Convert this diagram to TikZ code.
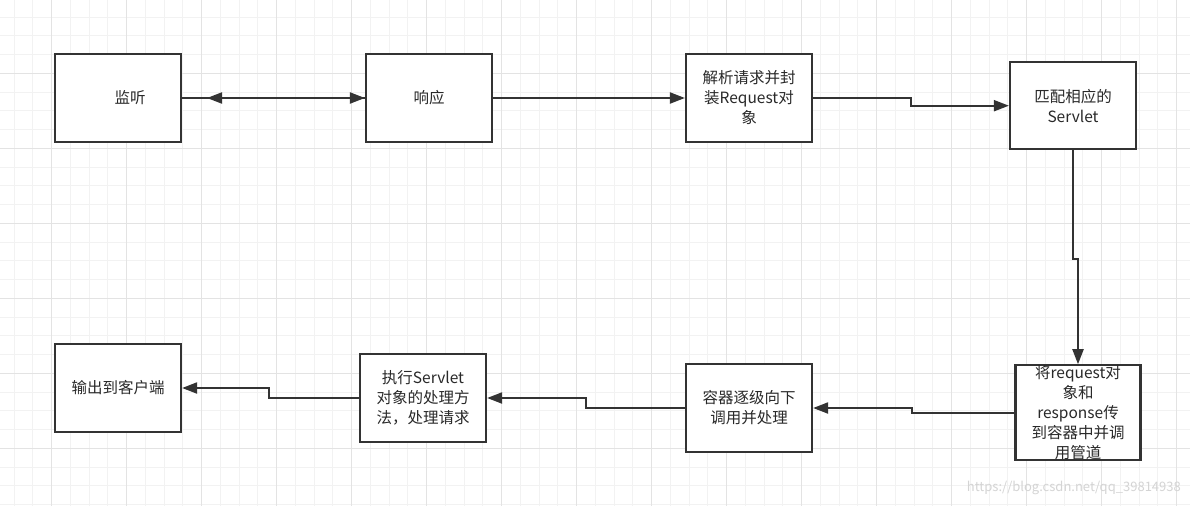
\documentclass[tikz,border=0pt]{standalone}
\usepackage{fontspec}
\setmainfont{Noto Sans CJK SC}
\usetikzlibrary{arrows.meta}
\definecolor{ink}{HTML}{333333}
\definecolor{gridminor}{HTML}{F2F2F2}
\definecolor{gridmajor}{HTML}{E3E3E3}
\definecolor{wm}{HTML}{D4D4D4}
\begin{document}
\begin{tikzpicture}[x=1pt,y=-1pt,
  box/.style={draw=ink,fill=white,line width=2.2pt,minimum width=126pt,minimum height=88pt,inner sep=0pt,align=center,font=\fontsize{15.5pt}{20pt}\selectfont,text=ink!80!black},
  conn/.style={draw=ink,line width=2pt,-{Triangle[length=15pt,width=11pt]}},
  gminor/.style={draw=gridminor,line width=1pt},
  gmajor/.style={draw=gridmajor,line width=1pt}]
\useasboundingbox (0,0) rectangle (1190,506);
\fill[white] (0,0) rectangle (1190,506);
% grid
\foreach \i in {0,...,64} {
  \pgfmathsetmacro{\xx}{-4.55+18.75*\i}
  \draw[gminor] (\xx,0) -- (\xx,506);
}
\foreach \i in {0,...,27} {
  \pgfmathsetmacro{\yy}{-1.7+18.75*\i}
  \draw[gminor] (0,\yy) -- (1190,\yy);
}
\foreach \i in {0,...,16} {
  \pgfmathsetmacro{\xx}{-23.3+75*\i}
  \draw[gmajor] (\xx,0) -- (\xx,506);
}
\foreach \i in {0,...,7} {
  \pgfmathsetmacro{\yy}{-1.7+75*\i}
  \draw[gmajor] (0,\yy) -- (1190,\yy);
}
% boxes
\node[box] (b1) at (118,98) {\hspace*{24pt}监听};
\node[box] (b2) at (429,98) {响应};
\node[box] (b3) at (749,98) {解析请求并封\\装Request对\\象};
\node[box,minimum height=87pt] (b4) at (1073,105.7) {匹配相应的\\Servlet};
\node[box,minimum width=125pt] (b5) at (1078,412.5) {将request对\\象和\\response传\\到容器中并调\\用管道};
\node[box] (b6) at (749,408) {容器逐级向下\\调用并处理};
\node[box] (b7) at (423,398) {执行Servlet\\对象的处理方\\法，处理请求};
\node[box] (b8) at (118,388) {输出到客户端};
% connectors
\coordinate (lt) at (207,98);
\draw[conn] (b1.east) -- (b2.west);
\draw[conn] (b2.west) -- (lt);
\draw[conn] (b2.east) -- (b3.west);
\draw[conn] (b3.east) -- ++(98,0) |- (b4.west);
\draw[conn] (b4.south) -- ++(0,109) -| (b5.north);
\draw[conn] (b5.west) -- ++(-102,0) |- (b6.east);
\draw[conn] (b6.west) -- ++(-99,0) |- (b7.east);
\draw[conn] (b7.west) -- ++(-90,0) |- (b8.east);
% watermark
\node[anchor=east,text=wm,font=\fontsize{13pt}{15pt}\selectfont,inner sep=0pt] (wmk) at (1181,488) {https://blog.csdn.net/qq\_39814938};
\end{tikzpicture}
\end{document}
